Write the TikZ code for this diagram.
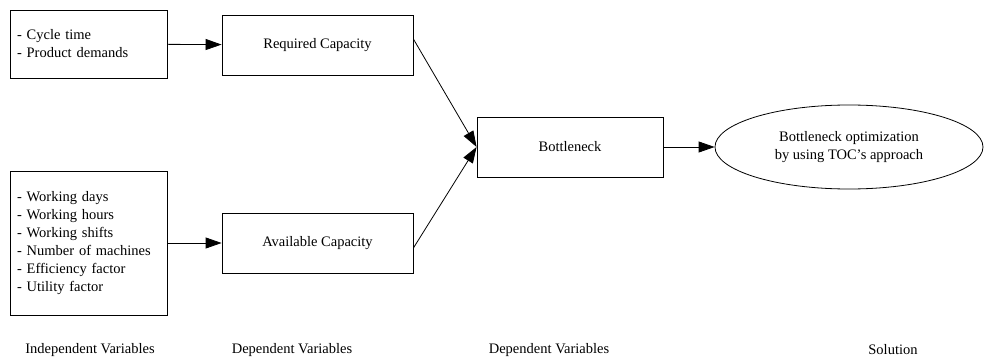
\documentclass[tikz,border=0pt]{standalone}
\usepackage{fontspec}
\setmainfont{Liberation Serif}
\usepackage{tikz}
\usetikzlibrary{arrows.meta}
\usetikzlibrary{shapes.geometric}
\usetikzlibrary{calc}

\begin{document}
\begin{tikzpicture}[x=1pt,y=-1pt,->,>={Triangle[length=16pt,width=11pt]},line width=0.8pt,
	font=\fontsize{14.5}{18}\selectfont]
	\tikzstyle{blk}=[draw, rectangle, minimum width=191pt, minimum height=60pt, inner sep=0pt]
	\tikzstyle{inbox}=[draw, rectangle, text width=143pt, align=left, inner xsep=7pt, inner ysep=0pt]
	\tikzstyle{lab}=[inner sep=0pt]
	\useasboundingbox (0,0) rectangle (1002,361);
	% input boxes
	\node[inbox, minimum height=68pt] 	(ind1) at (88.5,44)	{- Cycle time\\- Product demands};
	\node[inbox, minimum height=144pt] 	(ind2) at (88.5,243)	{- Working days\\- Working hours\\- Working shifts\\- Number of machines\\- Efficiency factor\\- Utility factor};
	% capacities
	\node[blk] 			(req) at (317.5,45)	{Required Capacity};
	\node[blk] 			(avail) at (317.5,243)	{Available Capacity};
	\node[blk, minimum width=186pt] 	(bn) at (570,147)	{Bottleneck};
	\node[draw, ellipse, minimum width=268pt, minimum height=84pt, inner sep=0pt, align=center] 	(sol) at (849,147)	{Bottleneck optimization\\by using TOC's approach};
	% column labels
	\node[lab] 	(l1) at (90,350)	{Independent Variables};
	\node[lab] 	(l2) at (292,350)	{Dependent Variables};
	\node[lab] 	(l3) at (549,350)	{Dependent Variables};
	\node[lab] 	(l4) at (893,350)	{Solution};
	\path
		(ind1) edge (req)
		(ind2) edge (avail)
		([yshift=6pt]req.east) edge (bn.west)
		([yshift=-5pt]avail.east) edge (bn.west)
		(bn) edge (sol);
\end{tikzpicture}
\end{document}
